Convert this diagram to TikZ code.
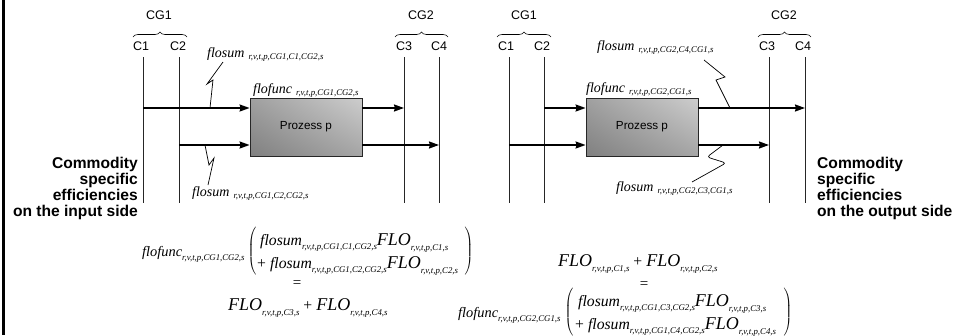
\documentclass[tikz,border=0pt]{standalone}
\usepackage{fontspec}
\setmainfont{Liberation Serif}
\setsansfont{Liberation Sans}
\usetikzlibrary{arrows.meta,decorations.pathreplacing,shadings}

% variable names with lowered index
\newcommand\subsz{\fontsize{8.8}{9}\selectfont\itshape}
\newcommand\dlab[2]{{\fontsize{14}{14}\selectfont\itshape #1}\hspace{4pt}\raisebox{-2.5pt}{\subsz #2}}
\newcommand\fsum[1]{{\fontsize{15.7}{16}\selectfont\itshape flosum}\raisebox{-4pt}{\subsz #1}}
\newcommand\ffunc[1]{{\fontsize{14.4}{15}\selectfont\itshape flofunc}\raisebox{-4pt}{\subsz #1}}
\newcommand\flo[1]{{\fontsize{18}{18}\selectfont\itshape FLO}\raisebox{-5pt}{\subsz #1}}
\newcommand\plus{{\fontsize{15.7}{16}\selectfont +}}
\newcommand\opar{$\nulldelimiterspace=0pt\left(\vrule height 22pt depth 22pt width 0pt\right.$}
\newcommand\cpar{$\nulldelimiterspace=0pt\left.\vrule height 22pt depth 22pt width 0pt\right)$}

\definecolor{boxLL}{RGB}{128,128,128}
\definecolor{boxUL}{RGB}{160,160,160}
\definecolor{boxUR}{RGB}{205,205,205}
\definecolor{boxLR}{RGB}{165,165,165}

\begin{document}
\begin{tikzpicture}[x=1pt,y=-1pt,
  cline/.style={line width=0.8pt, black!85},
  flow/.style={line width=1.8pt, -{Stealth[length=10pt,width=7pt,inset=1pt]}},
  bolt/.style={line width=0.7pt, line join=miter},
  procbox/.style={draw=black!85, line width=0.8pt, minimum width=112pt,
    minimum height=58pt, inner sep=0pt,
    upper left=boxUL, upper right=boxUR, lower left=boxLL, lower right=boxLR,
    font=\sffamily\fontsize{11.7}{12}\selectfont},
  grp/.style={font=\sffamily\fontsize{12.5}{13}\selectfont, inner sep=0pt},
  brc/.style={decorate, decoration={brace, amplitude=5pt}, line width=0.6pt},
  note/.style={font=\sffamily\bfseries\fontsize{15.6}{16}\selectfont, inner sep=0pt},
  lab/.style={anchor=base west, inner sep=0pt},
  eqn/.style={inner sep=0pt}
]
\useasboundingbox (0,0) rectangle (954,335);
\fill[white] (0,0) rectangle (954,335);
% frame line on the left edge
\draw[line width=3pt] (3.2,0) -- (3.2,335);

% ---------------- input side ----------------
\node[grp] (gL1) at (159,15) {CG1};
\node[grp] (gL2) at (421,15) {CG2};
\coordinate (bL1a) at (133,37); \coordinate (bL1b) at (187,37);
\coordinate (bL2a) at (395,37); \coordinate (bL2b) at (448,37);
\draw[brc] (bL1a) -- (bL1b);
\draw[brc] (bL2a) -- (bL2b);
\node[grp] (cL1) at (141,46) {C1};
\node[grp] (cL2) at (178,46) {C2};
\node[grp] (cL3) at (404,46) {C3};
\node[grp] (cL4) at (439,46) {C4};
\foreach \n/\x in {1/143,2/179,3/404,4/439}{
  \coordinate (tL\n) at (\x,57); \coordinate (eL\n) at (\x,203);
  \draw[cline] (tL\n) -- (eL\n);
}
\node[procbox] (boxL) at (306,127) {Prozess p};
\coordinate (yA) at (0,108); \coordinate (yB) at (0,145);
\draw[flow] (tL1 |- yA) -- (boxL.west |- yA);
\draw[flow] (tL2 |- yB) -- (boxL.west |- yB);
\draw[flow] (boxL.east |- yA) -- (tL3 |- yA);
\draw[flow] (boxL.east |- yB) -- (tL4 |- yB);

\node[lab] (fsL1) at (207,57) {\dlab{flosum}{r,v,t,p,CG1,C1,CG2,s}};
\node[lab] (ffL) at (253,93) {\dlab{flofunc}{r,v,t,p,CG1,CG2,s}};
\node[lab] (fsL2) at (192,196) {\dlab{flosum}{r,v,t,p,CG1,C2,CG2,s}};
\draw[bolt] (223,62) -- (207,84) -- (213,80) -- (210,108);
\draw[bolt] (205,145) -- (209,165) -- (214,158) -- (208,185);

\node[note, align=right, anchor=north east] (noteL) at (138,157)
  {Commodity\\specific\\efficiencies\\on the input side};

% balance on the input side
\node[lab] (eqLf) at (142,256) {\ffunc{r,v,t,p,CG1,CG2,s}};
\node[eqn] (eqLo) at (252,251) {\opar};
\node[lab] (eqL1) at (260,245) {\fsum{r,v,t,p,CG1,C1,CG2,s}\flo{r,v,t,p,C1,s}};
\node[lab] (eqL2) at (257,268) {\plus\hspace{4pt}\fsum{r,v,t,p,CG1,C2,CG2,s}\flo{r,v,t,p,C2,s}};
\node[eqn] (eqLc) at (469,251) {\cpar};
\node[eqn] (eqLe) at (297,284) {\fontsize{15}{15}\selectfont =};
\node[lab] (eqLs) at (228,310) {\flo{r,v,t,p,C3,s}\hspace{4pt}\plus\hspace{4pt}\flo{r,v,t,p,C4,s}};

% ---------------- output side ----------------
\node[grp] (gR1) at (524,15) {CG1};
\node[grp] (gR2) at (784,15) {CG2};
\coordinate (bR1a) at (497,37); \coordinate (bR1b) at (551,37);
\coordinate (bR2a) at (758,37); \coordinate (bR2b) at (811,37);
\draw[brc] (bR1a) -- (bR1b);
\draw[brc] (bR2a) -- (bR2b);
\node[grp] (cR1) at (506,46) {C1};
\node[grp] (cR2) at (542,46) {C2};
\node[grp] (cR3) at (767,46) {C3};
\node[grp] (cR4) at (803,46) {C4};
\foreach \n/\x in {1/509,2/544,3/769,4/805}{
  \coordinate (tR\n) at (\x,57); \coordinate (eR\n) at (\x,203);
  \draw[cline] (tR\n) -- (eR\n);
}
\node[procbox] (boxR) at (642,127) {Prozess p};
\draw[flow] (tR2 |- yA) -- (boxR.west |- yA);
\draw[flow] (tR1 |- yB) -- (boxR.west |- yB);
\draw[flow] (boxR.east |- yA) -- (tR4 |- yA);
\draw[flow] (boxR.east |- yB) -- (tR3 |- yB);

\node[lab] (fsR1) at (597,50) {\dlab{flosum}{r,v,t,p,CG2,C4,CG1,s}};
\node[lab] (ffR) at (586,92) {\dlab{flofunc}{r,v,t,p,CG2,CG1,s}};
\node[lab] (fsR2) at (616,191) {\dlab{flosum}{r,v,t,p,CG2,C3,CG1,s}};
\draw[bolt] (704,60) -- (725,77) -- (716,80) -- (730,108);
\draw[bolt, rounded corners=3pt] (723,145) -- (707,157) -- (726,163) -- (692,182);

\node[note, align=left, anchor=north west] (noteR) at (817,157)
  {Commodity\\specific\\efficiencies\\on the output side};

% balance on the output side
\node[lab] (eqRs) at (558,266) {\flo{r,v,t,p,C1,s}\hspace{4pt}\plus\hspace{4pt}\flo{r,v,t,p,C2,s}};
\node[eqn] (eqRe) at (644,285) {\fontsize{15}{15}\selectfont =};
\node[lab] (eqRf) at (458,317) {\ffunc{r,v,t,p,CG2,CG1,s}};
\node[eqn] (eqRo) at (569,312) {\opar};
\node[lab] (eqR1) at (578,306) {\fsum{r,v,t,p,CG1,C3,CG2,s}\flo{r,v,t,p,C3,s}};
\node[lab] (eqR2) at (575,329) {\plus\hspace{4pt}\fsum{r,v,t,p,CG1,C4,CG2,s}\flo{r,v,t,p,C4,s}};
\node[eqn] (eqRc) at (788,312) {\cpar};
\end{tikzpicture}
\end{document}
